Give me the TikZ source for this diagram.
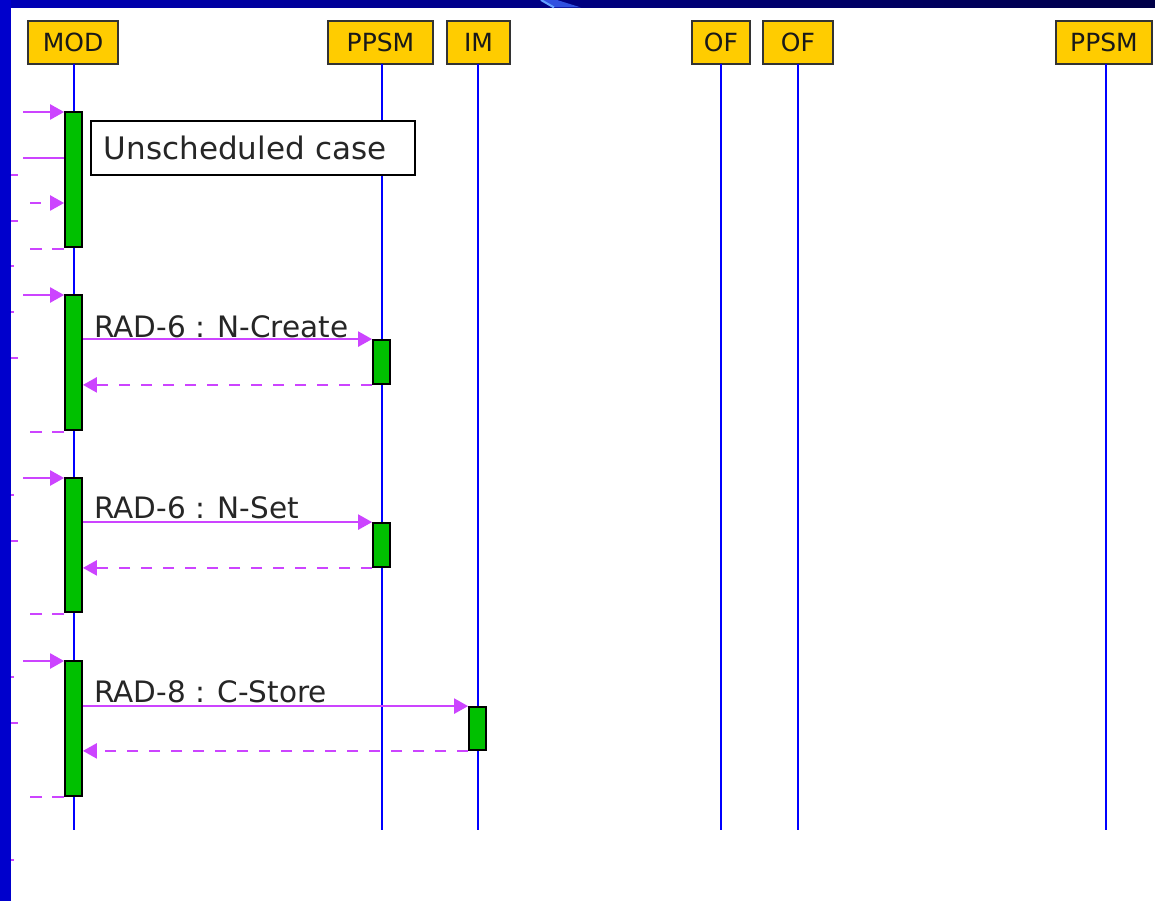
\documentclass[tikz,border=0pt]{standalone}
\usepackage{fontspec}
\setmainfont{DejaVu Sans}
\usetikzlibrary{arrows.meta,calc}
\definecolor{hdr}{HTML}{FFCC00}
\definecolor{life}{HTML}{0000FF}
\definecolor{actg}{HTML}{00C000}
\definecolor{msgc}{HTML}{CC44FF}
\definecolor{frameblue}{HTML}{0000CC}
\definecolor{barleft}{HTML}{0000B8}
\definecolor{barright}{HTML}{000048}
\begin{document}
\begin{tikzpicture}[x=1pt,y=-1pt,
  hdrbox/.style={draw=black!80, line width=1.8pt, fill=hdr, inner sep=0pt,
    minimum height=43pt, text=black!90, font=\fontsize{25}{30}\selectfont},
  lifeln/.style={draw=life, line width=2.2pt},
  actbar/.style={draw=black, line width=1.8pt, fill=actg, minimum width=17pt, inner sep=0pt},
  msg/.style={draw=msgc, line width=2.4pt, -{Triangle[length=14pt,width=15pt]}},
  msgplain/.style={draw=msgc, line width=2.4pt},
  ret/.style={msg, dash pattern=on 11pt off 11pt},
  retplain/.style={msgplain, dash pattern=on 12pt off 10pt},
  tick/.style={draw=msgc, line width=2.4pt},
  lbl/.style={anchor=base west, inner sep=0pt, text=black!85, font=\fontsize{29.5}{34}\selectfont},
  notebox/.style={draw=black, line width=1.8pt, fill=white, anchor=west, inner xsep=13pt,
    inner ysep=0pt, minimum height=54pt, text width=298pt, align=left, text=black!85,
    font=\fontsize{31}{36}\selectfont},
]
\useasboundingbox (0,0) rectangle (1155,901);
% background and frame
\fill[white] (0,0) rectangle (1155,901);
\shade[left color=barleft, right color=barright] (0,0) rectangle (1155,7.5);
\fill[color={rgb,255:red,48;green,80;blue,224}] (540,0) -- (557,0) -- (581,7.5) -- (553,7.5) -- cycle;
\draw[color={rgb,255:red,100;green,160;blue,255}, line width=2pt] (541,0) -- (554,7.5);
\fill[frameblue] (0,0) rectangle (11,901);

% headers
\node[hdrbox, minimum width=90pt]  (mod)   at (73,42.5)   {MOD};
\node[hdrbox, minimum width=105pt] (ppsm)  at (380.5,42.5) {PPSM};
\node[hdrbox, minimum width=63pt]  (im)    at (478.5,42.5) {IM};
\node[hdrbox, minimum width=58pt]  (ofa)   at (721,42.5)   {OF};
\node[hdrbox, minimum width=70pt]  (ofb)   at (798,42.5)   {OF};
\node[hdrbox, minimum width=96pt]  (ppsmb) at (1104,42.5)  {PPSM};

% lifelines
\coordinate (endy) at (0,830);
\coordinate (lmod) at (74,64);
\coordinate (lppsm) at (382,64);
\coordinate (lim) at (478,64);
\coordinate (lofa) at (721,64);
\coordinate (lofb) at (798,64);
\coordinate (lppsmb) at (1106,64);
\foreach \c in {lmod,lppsm,lim,lofa,lofb,lppsmb}
  \draw[lifeln] (\c) -- (\c |- endy);

% activation bars
\node[actbar, minimum height=135pt] (m1) at (73.5,179.5) {};
\node[actbar, minimum height=135pt] (m2) at (73.5,362.5) {};
\node[actbar, minimum height=134pt] (m3) at (73.5,545) {};
\node[actbar, minimum height=135pt] (m4) at (73.5,728.5) {};
\node[actbar, minimum height=44pt]  (p2) at (381.5,362) {};
\node[actbar, minimum height=44pt]  (p3) at (381.5,545) {};
\node[actbar, minimum height=43pt]  (i4) at (477.5,728.5) {};

% note
\node[notebox] (note) at (90,148) {Unscheduled case};

% left-side messages
\coordinate (a1) at (23,112);
\coordinate (a2) at (23,158);
\coordinate (a3) at (30,203);
\coordinate (a4) at (28,249);
\coordinate (b1) at (23,295);
\coordinate (b4) at (28,432);
\coordinate (c1) at (23,478);
\coordinate (c4) at (28,614);
\coordinate (d1) at (23,661);
\coordinate (d4) at (28,797);
\draw[msg] (a1) -- (a1 -| m1.west);
\draw[msgplain] (m1.west |- a2) -- (a2);
\draw[ret] (a3) -- (a3 -| m1.west);
\draw[retplain] (m1.west |- a4) -- (a4);
\draw[msg] (b1) -- (b1 -| m2.west);
\draw[retplain] (m2.west |- b4) -- (b4);
\draw[msg] (c1) -- (c1 -| m3.west);
\draw[retplain] (m3.west |- c4) -- (c4);
\draw[msg] (d1) -- (d1 -| m4.west);
\draw[retplain] (m4.west |- d4) -- (d4);

% edge fragments
\foreach \yy in {175,221,358,541,723}
  \draw[tick] (11,\yy) -- (18,\yy);
\foreach \yy in {266,312,495,677,860}
  \draw[tick] (11,\yy) -- (14,\yy);

% main messages
\draw[msg] (m2.east |- p2.north west) -- (p2.north west);
\draw[ret] (p2.south west) -- (p2.south west -| m2.east);
\draw[msg] (m3.east |- p3.north west) -- (p3.north west);
\draw[ret] (p3.south west) -- (p3.south west -| m3.east);
\draw[msg] (m4.east |- i4.north west) -- (i4.north west);
\draw[ret] (i4.south west) -- (i4.south west -| m4.east);

% labels
\node[lbl] (t2) at (94,337) {RAD-6 : N-Create};
\node[lbl] (t3) at (94,518) {RAD-6 : N-Set};
\node[lbl] (t4) at (94,702) {RAD-8 : C-Store};
\end{tikzpicture}
\end{document}
